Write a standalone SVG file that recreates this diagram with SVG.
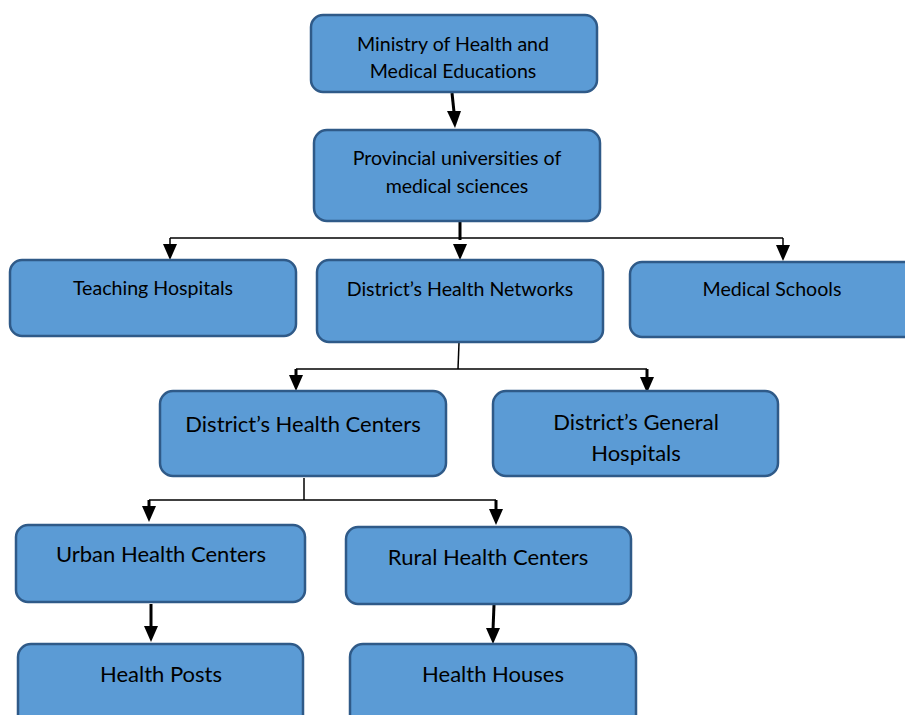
<svg xmlns="http://www.w3.org/2000/svg" width="905" height="715" viewBox="0 0 905 715">
<style>
.box{fill:#5B9BD5;stroke:#2F5A88;stroke-width:2.5}
.t{font-family:Lato,"Liberation Sans",sans-serif;fill:#000;text-anchor:middle;font-variant-ligatures:none}
.s17{font-size:19.6px}
.s20{font-size:22px}
.ln{fill:none;stroke:#000;stroke-width:1.5}
.thk{fill:none;stroke:#000;stroke-width:3}
</style>
<rect width="905" height="715" fill="#fff"/>
<g id="connectors">
<path class="thk" d="M452,93 L454,112" />
<path d="M447,111 L461,111 L455,128 Z" fill="#000"/>
<path class="thk" d="M460,222 L460,240"/>
<path class="ln" d="M170,238 L783,238"/>
<path class="ln" d="M170,238 L170,246"/>
<path class="ln" d="M783,238 L783,246"/>
<path d="M163,244 L177,244 L170,260 Z" fill="#000"/>
<path d="M453,244 L467,244 L460,260 Z" fill="#000"/>
<path d="M776,245 L790,245 L783,261 Z" fill="#000"/>
<path class="ln" d="M459,343 L458,369"/>
<path class="ln" d="M296,369 L647,369"/>
<path class="thk" d="M296,369 L296,378"/>
<path class="thk" d="M647,369 L647,380"/>
<path d="M289,375 L303,375 L296,391 Z" fill="#000"/>
<path d="M640,377 L654,377 L647,393 Z" fill="#000"/>
<path class="ln" d="M304,478 L304,500"/>
<path class="ln" d="M149,500 L496,500"/>
<path class="thk" d="M149,500 L149,508"/>
<path class="thk" d="M496,500 L496,511"/>
<path d="M142,506 L156,506 L149,522 Z" fill="#000"/>
<path d="M489,509 L503,509 L496,525 Z" fill="#000"/>
<path class="thk" d="M151,604 L151,628"/>
<path d="M144,626 L158,626 L151,642 Z" fill="#000"/>
<path class="thk" d="M494,605 L493,630"/>
<path d="M486,628 L500,628 L493,644 Z" fill="#000"/>
</g>
<g id="ministry">
<rect class="box" x="311" y="15" width="286" height="77" rx="12"/>
<text class="t s17" x="453" y="51">Ministry of Health and</text>
<text class="t s17" x="453" y="78">Medical Educations</text>
</g>
<g id="provincial">
<rect class="box" x="314" y="130" width="286" height="91" rx="13"/>
<text class="t s17" x="457" y="165">Provincial universities of</text>
<text class="t s17" x="457" y="193">medical sciences</text>
</g>
<g id="teaching">
<rect class="box" x="10" y="260" width="286" height="76" rx="12"/>
<text class="t s17" x="153" y="295">Teaching Hospitals</text>
</g>
<g id="networks">
<rect class="box" x="317" y="260" width="286" height="82" rx="12"/>
<text class="t s17" x="460" y="296">District’s Health Networks</text>
</g>
<g id="medschools">
<rect class="box" x="630" y="262" width="290" height="75" rx="12"/>
<text class="t s17" x="772" y="296">Medical Schools</text>
</g>
<g id="dhc">
<rect class="box" x="160" y="391" width="286" height="85" rx="13"/>
<text class="t s20" x="303" y="432">District’s Health Centers</text>
</g>
<g id="dgh">
<rect class="box" x="493" y="391" width="285" height="85" rx="13"/>
<text class="t s20" x="636" y="430">District’s General</text>
<text class="t s20" x="636" y="461">Hospitals</text>
</g>
<g id="urban">
<rect class="box" x="16" y="525" width="289" height="77" rx="12"/>
<text class="t s20" x="161" y="562">Urban Health Centers</text>
</g>
<g id="rural">
<rect class="box" x="346" y="527" width="285" height="77" rx="12"/>
<text class="t s20" x="488" y="565">Rural Health Centers</text>
</g>
<g id="posts">
<rect class="box" x="18" y="644" width="285" height="90" rx="13"/>
<text class="t s20" x="161" y="682">Health Posts</text>
</g>
<g id="houses">
<rect class="box" x="350" y="644" width="286" height="90" rx="13"/>
<text class="t s20" x="493" y="682">Health Houses</text>
</g>
</svg>
